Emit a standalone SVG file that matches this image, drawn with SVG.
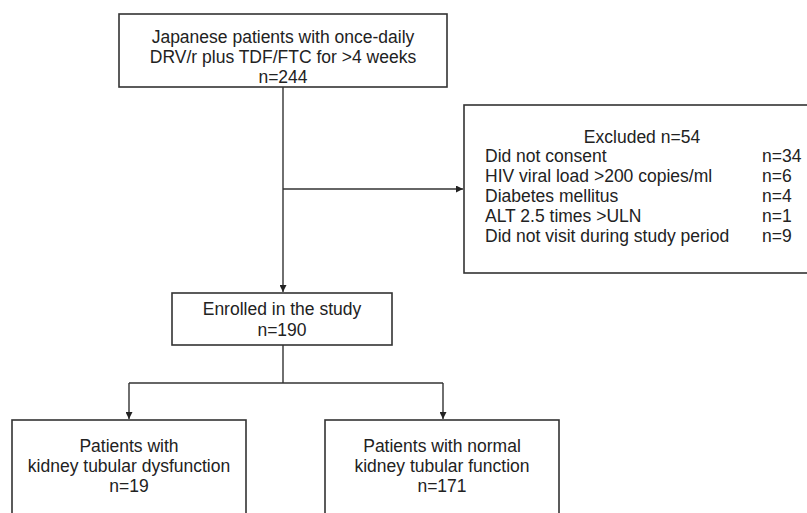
<svg xmlns="http://www.w3.org/2000/svg" width="807" height="513" viewBox="0 0 807 513">
<defs>
<marker id="arr" viewBox="0 0 10 10" refX="10" refY="5" markerWidth="7" markerHeight="7" markerUnits="userSpaceOnUse" orient="auto">
<path d="M0,0 L10,5 L0,10 z" fill="#222"/>
</marker>
</defs>
<style>
.box{fill:#fff;stroke:#333;stroke-width:1.6}
.t{font-family:"Liberation Sans",Arial,sans-serif;font-size:17.5px;fill:#222}
.c{text-anchor:middle}
.ln{fill:none;stroke:#333;stroke-width:1.4}
</style>
<rect width="807" height="513" fill="#fff"/>
<g id="connectors">
<line class="ln" x1="283" y1="87" x2="283" y2="292" marker-end="url(#arr)"/>
<line class="ln" x1="283" y1="189" x2="463" y2="189" marker-end="url(#arr)"/>
<line class="ln" x1="283" y1="345" x2="283" y2="383"/>
<line class="ln" x1="129" y1="383" x2="443" y2="383"/>
<line class="ln" x1="129" y1="383" x2="129" y2="419" marker-end="url(#arr)"/>
<line class="ln" x1="443" y1="383" x2="443" y2="419" marker-end="url(#arr)"/>
</g>
<g id="node-start">
<rect class="box" x="119" y="14" width="328" height="73"/>
<text class="t c" x="283" y="43">Japanese patients with once-daily</text>
<text class="t c" x="283" y="63">DRV/r plus TDF/FTC for &gt;4 weeks</text>
<text class="t c" x="283" y="83">n=244</text>
</g>
<g id="node-excluded">
<rect class="box" x="464" y="105" width="350" height="168"/>
<text class="t c" x="642" y="143">Excluded n=54</text>
<text class="t" x="485" y="162">Did not consent</text>
<text class="t" x="485" y="182">HIV viral load &gt;200 copies/ml</text>
<text class="t" x="485" y="202">Diabetes mellitus</text>
<text class="t" x="485" y="222">ALT 2.5 times &gt;ULN</text>
<text class="t" x="485" y="242">Did not visit during study period</text>
<text class="t" x="762" y="162">n=34</text>
<text class="t" x="762" y="182">n=6</text>
<text class="t" x="762" y="202">n=4</text>
<text class="t" x="762" y="222">n=1</text>
<text class="t" x="762" y="242">n=9</text>
</g>
<g id="node-enrolled">
<rect class="box" x="172" y="293" width="220" height="52"/>
<text class="t c" x="282" y="315">Enrolled in the study</text>
<text class="t c" x="282" y="336">n=190</text>
</g>
<g id="node-dysfunction">
<rect class="box" x="12" y="420" width="234" height="110"/>
<text class="t c" x="129" y="452">Patients with</text>
<text class="t c" x="129" y="472">kidney tubular dysfunction</text>
<text class="t c" x="129" y="492">n=19</text>
</g>
<g id="node-normal">
<rect class="box" x="325" y="420" width="234" height="110"/>
<text class="t c" x="442" y="452">Patients with normal</text>
<text class="t c" x="442" y="472">kidney tubular function</text>
<text class="t c" x="442" y="492">n=171</text>
</g>
</svg>
